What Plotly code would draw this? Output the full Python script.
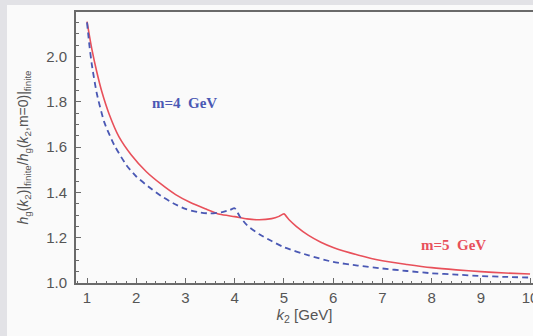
import plotly.graph_objects as go

# m = 5 GeV (red, solid)
k_m5 = [1.0, 1.05, 1.1, 1.2, 1.3, 1.45, 1.65, 1.9, 2.2, 2.5, 2.8, 3.1, 3.4, 3.7, 4.0,
        4.25, 4.5, 4.75, 4.9, 5.0, 5.1, 5.25, 5.5, 5.75, 6.0, 6.5, 7.0, 7.5, 8.0, 8.5,
        9.0, 9.5, 10.0]
r_m5 = [2.154, 2.09, 2.03, 1.93, 1.845, 1.745, 1.645, 1.565, 1.492, 1.437, 1.39, 1.355,
        1.328, 1.303, 1.293, 1.283, 1.279, 1.284, 1.294, 1.305, 1.28, 1.25, 1.21, 1.18,
        1.157, 1.124, 1.098, 1.082, 1.068, 1.058, 1.05, 1.044, 1.04]

# m = 4 GeV (blue, dashed)
k_m4 = [1.0, 1.05, 1.1, 1.2, 1.35, 1.55, 1.8, 2.0, 2.25, 2.5, 2.75, 3.0, 3.25, 3.5, 3.75,
        3.9, 4.0, 4.1, 4.25, 4.5, 4.75, 5.0, 5.5, 6.0, 6.5, 7.0, 7.5, 8.0, 8.5, 9.0, 9.5, 10.0]
r_m4 = [2.15, 2.045, 1.96, 1.835, 1.71, 1.61, 1.52, 1.47, 1.425, 1.385, 1.352, 1.327,
        1.313, 1.307, 1.313, 1.322, 1.33, 1.295, 1.255, 1.215, 1.185, 1.158, 1.122, 1.093,
        1.077, 1.064, 1.053, 1.043, 1.037, 1.031, 1.027, 1.024]

x_ticks = [1, 2, 3, 4, 5, 6, 7, 8, 9, 10]
y_ticks = [1.0, 1.2, 1.4, 1.6, 1.8, 2.0]
y_tick_labels = ["1.0", "1.2", "1.4", "1.6", "1.8", "2.0"]

RED = "#e8505a"
BLUE = "#4a58b4"
AXIS = "#6a6a6a"
PANEL = "#fafafa"

fig = go.Figure()
fig.add_trace(go.Scatter(x=k_m5, y=r_m5, mode="lines",
                         line=dict(color=RED, width=1.6, shape="spline", smoothing=0.6),
                         showlegend=False))
fig.add_trace(go.Scatter(x=k_m4, y=r_m4, mode="lines",
                         line=dict(color=BLUE, width=1.8, dash="6px,4px", shape="spline", smoothing=0.6),
                         showlegend=False))

fig.add_annotation(x=2.98, y=1.795, xref="x", yref="y", text="<b>m=4  GeV</b>",
                   showarrow=False, font=dict(family="Liberation Serif", size=15, color=BLUE))
fig.add_annotation(x=8.45, y=1.168, xref="x", yref="y", text="<b>m=5  GeV</b>",
                   showarrow=False, font=dict(family="Liberation Serif", size=15, color=RED))

# white panel over grey page border
fig.add_shape(type="rect", xref="paper", yref="paper", x0=-0.151, x1=1.05, y0=-0.3, y1=1.026,
              fillcolor=PANEL, line=dict(width=0), layer="below")

fig.update_layout(
    width=533, height=336,
    margin=dict(l=76, r=0, t=12, b=53, autoexpand=False),
    paper_bgcolor="#e2e2e6",
    plot_bgcolor=PANEL,
    font=dict(family="Liberation Sans", color="#555555"),
)
fig.update_xaxes(
    automargin=False,
    range=[0.776, 10.06], tickvals=x_ticks, ticks="inside", ticklen=5, tickwidth=1,
    tickcolor=AXIS, showline=True, linecolor=AXIS, linewidth=2, mirror=True,
    showgrid=False, zeroline=False, tickfont=dict(size=15, color="#555555"),
    ticklabeloverflow="allow",
    minor=dict(dtick=0.2, ticks="inside", ticklen=2, tickcolor=AXIS),
    title=dict(text="<i>k</i><sub>2</sub> [GeV]", font=dict(size=15, color="#555555"), standoff=3),
)
fig.update_yaxes(
    automargin=False,
    range=[1.0, 2.196], tickvals=y_ticks, ticktext=y_tick_labels, ticks="inside",
    ticklen=5, tickwidth=1, tickcolor=AXIS, showline=True, linecolor=AXIS, linewidth=2,
    mirror=False, showgrid=False, zeroline=False, tickfont=dict(size=15, color="#555555"),
    ticklabelstandoff=4,
    minor=dict(dtick=0.05, ticks="inside", ticklen=3, tickcolor=AXIS),
    title=dict(text="<i>h</i><sub>g</sub>(<i>k</i><sub>2</sub>)|<sub>finite</sub>/<i>h</i><sub>g</sub>(<i>k</i><sub>2</sub>,m=0)|<sub>finite</sub>",
               font=dict(size=14, color="#555555"), standoff=14),
)

fig.write_html("out.html", config={"displayModeBar": False},
               post_script=("document.body.style.margin='0';"
                            "document.body.style.overflow='hidden';"
                            "document.documentElement.style.overflow='hidden';"))
